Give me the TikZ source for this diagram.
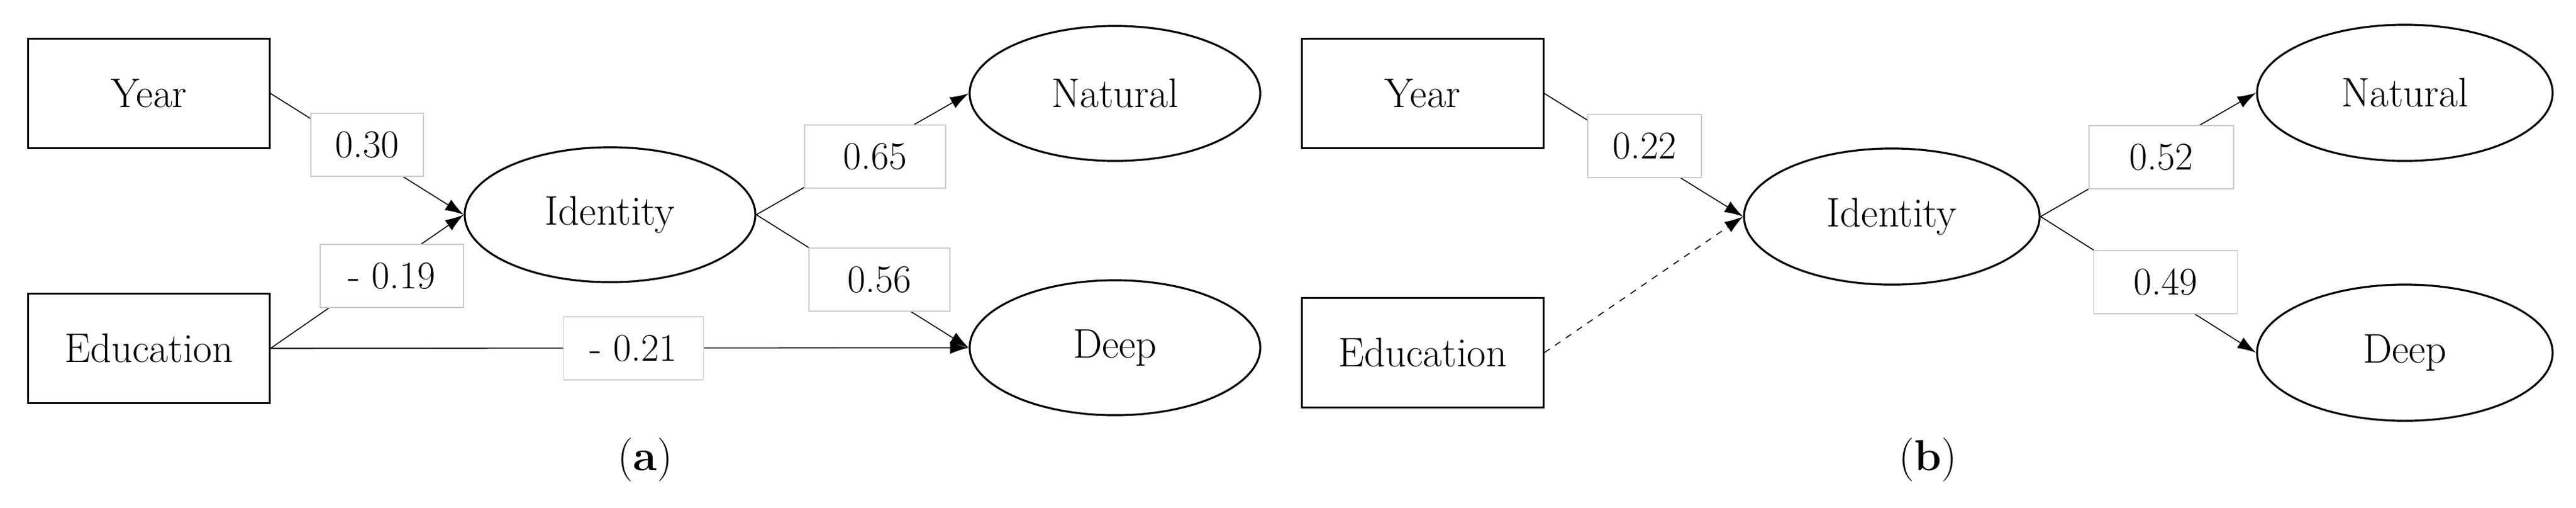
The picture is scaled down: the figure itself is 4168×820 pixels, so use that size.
\documentclass[tikz,border=0pt]{standalone}
\usetikzlibrary{shapes.geometric,arrows.meta}
\begin{document}
\begin{tikzpicture}[x=0.01cm,y=-0.01cm,
  box/.style={draw,line width=0.9pt,minimum width=3.9cm,minimum height=1.77cm,inner sep=0pt,font=\fontsize{19}{22}\selectfont},
  lat/.style={draw,ellipse,line width=0.9pt,minimum width=4.7cm,minimum height=2.18cm,inner sep=0pt,font=\fontsize{19}{22}\selectfont},
  lab/.style={draw=black!20,fill=white,line width=0.5pt,minimum width=1.82cm,minimum height=1.02cm,inner sep=0pt,font=\fontsize{18}{21}\selectfont},
  edge/.style={line width=0.45pt,-{Latex[length=0.3cm,width=0.2cm]}},
  captext/.style={font=\fontsize{20}{24}\selectfont}]
\useasboundingbox (0,0) rectangle (4168,820);
% panel a
\node[box] (ya) at (241,151) {Year};
\node[box] (ea) at (241,563) {Education};
\node[lat] (ia) at (987,347) {Identity};
\node[lat] (na) at (1804,151) {Natural};
\node[lat] (da) at (1804,562) {Deep};
\draw[edge] (ya.east) -- (ia.west);
\draw[edge] (ea.east) -- (ia.west);
\draw[edge] (ea.east) -- (da.west);
\draw[edge] (ia.east) -- (na.west);
\draw[edge] (ia.east) -- (da.west);
\node[lab] (la1) at (594,234) {0.30};
\node[lab,minimum width=2.32cm] (la2) at (634,446) {- 0.19};
\node[lab,minimum width=2.28cm] (la3) at (1416,253) {0.65};
\node[lab,minimum width=2.28cm] (la4) at (1423,452) {0.56};
\node[lab,minimum width=2.27cm] (la5) at (1025,563) {- 0.21};
\node[captext] (capa) at (1044,743) {(\textbf{a})};
% panel b
\node[box] (yb) at (2302,151) {Year};
\node[box] (eb) at (2302,570) {Education};
\node[lat,minimum width=4.78cm,minimum height=2.2cm] (ib) at (3061,350) {Identity};
\node[lat,minimum width=4.78cm,minimum height=2.2cm] (nb) at (3891,150) {Natural};
\node[lat,minimum width=4.78cm,minimum height=2.2cm] (db) at (3891,570) {Deep};
\draw[edge] (yb.east) -- (ib.west);
\draw[edge,dashed] (eb.east) -- (ib.west);
\draw[edge] (ib.east) -- (nb.west);
\draw[edge] (ib.east) -- (db.west);
\node[lab,minimum width=1.84cm] (lb1) at (2661,236) {0.22};
\node[lab,minimum width=2.34cm] (lb2) at (3497,254) {0.52};
\node[lab,minimum width=2.33cm] (lb3) at (3504,456) {0.49};
\node[captext] (capb) at (3119,743) {(\textbf{b})};
\end{tikzpicture}
\end{document}
